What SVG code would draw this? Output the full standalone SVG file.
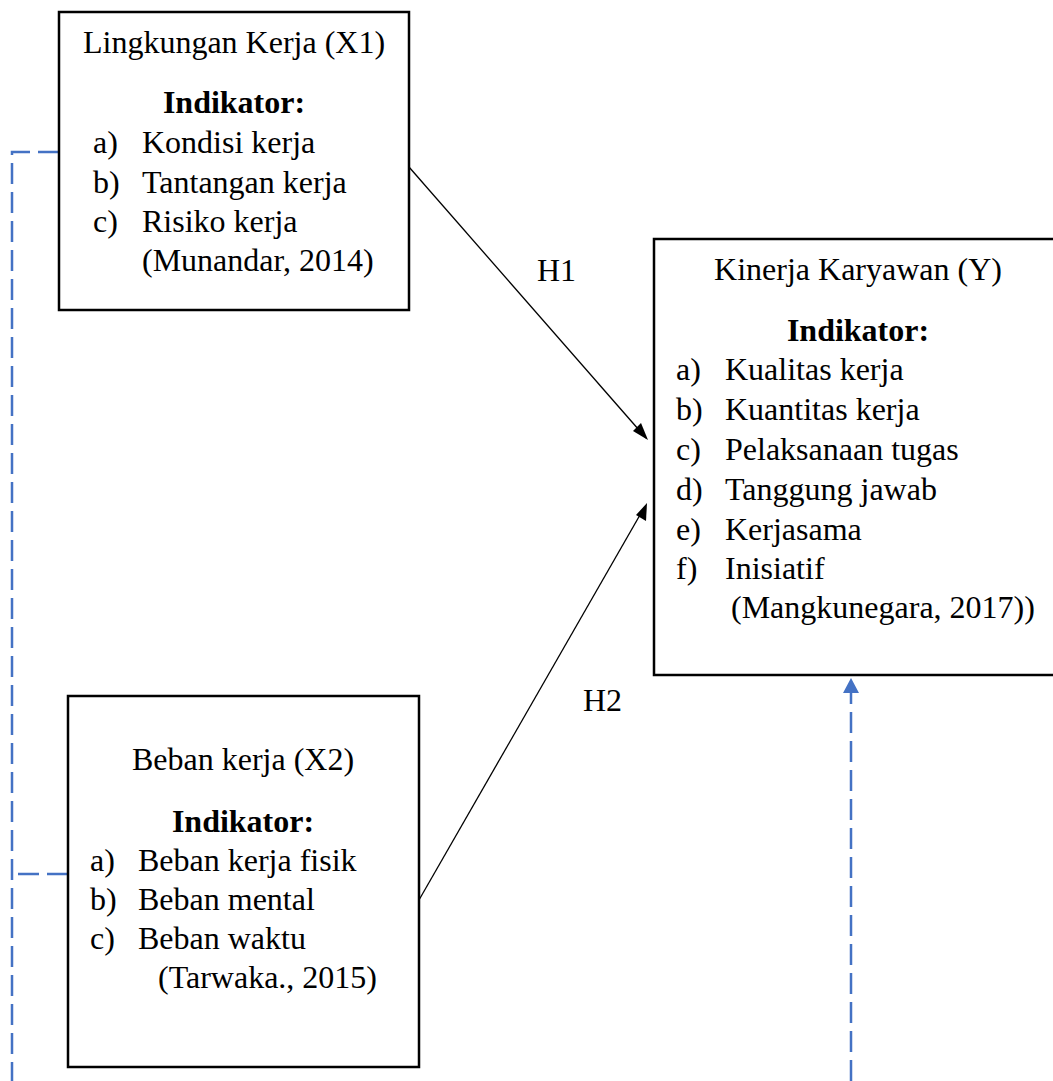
<svg xmlns="http://www.w3.org/2000/svg" width="1053" height="1081" viewBox="0 0 1053 1081">
<style>
  .box { fill: #ffffff; stroke: #000000; stroke-width: 2.5; }
  .t { font-family: "Liberation Serif", "Times New Roman", serif; font-size: 32px; fill: #000000; }
  .b { font-weight: bold; }
  .c { text-anchor: middle; }
  .link { stroke: #000000; stroke-width: 1.3; fill: none; }
  .dash { stroke: #4472C4; stroke-width: 2.5; fill: none; stroke-dasharray: 21 8; }
</style>
<defs>
  <marker id="arrowBlack" viewBox="0 0 10 10" refX="10" refY="5" markerWidth="10" markerHeight="10" markerUnits="userSpaceOnUse" orient="auto">
    <path d="M0,0 L10,5 L0,10 Z" fill="#000000"/>
  </marker>
  <marker id="arrowBlue" viewBox="0 0 10 10" refX="10" refY="5" markerWidth="16" markerHeight="16" markerUnits="userSpaceOnUse" orient="auto">
    <path d="M0,0 L10,5 L0,10 Z" fill="#4472C4"/>
  </marker>
</defs>

<g id="connectors">
  <path class="dash" d="M59,152 H12 V1081"/>
  <path class="dash" d="M68,874 H12"/>
  <line class="link" x1="409" y1="167" x2="646" y2="438"/>
  <path d="M648,440 L633,431 L641,423 Z" fill="#000000"/>
  <line class="link" x1="419" y1="900" x2="644" y2="508"/>
  <path d="M647,503 L646,521 L636,515 Z" fill="#000000"/>
  <line x1="851" y1="1081" x2="851" y2="690" stroke="#4472C4" stroke-width="2.5" stroke-dasharray="21 8"/>
  <path d="M851,678 L859,693 L843,693 Z" fill="#4472C4"/>
  <text class="t" x="537" y="281">H1</text>
  <text class="t" x="583" y="711">H2</text>
</g>

<g id="node-x1">
  <rect class="box" x="59" y="12" width="350" height="298"/>
  <text class="t c" x="234" y="53">Lingkungan Kerja (X1)</text>
  <text class="t b c" x="234" y="113">Indikator:</text>
  <text class="t" x="93" y="153">a)</text><text class="t" x="142" y="153">Kondisi kerja</text>
  <text class="t" x="93" y="193">b)</text><text class="t" x="142" y="193">Tantangan kerja</text>
  <text class="t" x="93" y="232">c)</text><text class="t" x="142" y="232">Risiko kerja</text>
  <text class="t" x="142" y="271">(Munandar, 2014)</text>
</g>

<g id="node-y">
  <rect class="box" x="654" y="239" width="410" height="436"/>
  <text class="t c" x="858" y="280">Kinerja Karyawan (Y)</text>
  <text class="t b c" x="858" y="341">Indikator:</text>
  <text class="t" x="676" y="380">a)</text><text class="t" x="725" y="380">Kualitas kerja</text>
  <text class="t" x="676" y="420">b)</text><text class="t" x="725" y="420">Kuantitas kerja</text>
  <text class="t" x="676" y="460">c)</text><text class="t" x="725" y="460">Pelaksanaan tugas</text>
  <text class="t" x="676" y="500">d)</text><text class="t" x="725" y="500">Tanggung jawab</text>
  <text class="t" x="676" y="540">e)</text><text class="t" x="725" y="540">Kerjasama</text>
  <text class="t" x="676" y="579">f)</text><text class="t" x="725" y="579">Inisiatif</text>
  <text class="t" x="731" y="618">(Mangkunegara, 2017))</text>
</g>

<g id="node-x2">
  <rect class="box" x="68" y="696" width="351" height="371"/>
  <text class="t c" x="243" y="770">Beban kerja (X2)</text>
  <text class="t b c" x="243" y="832">Indikator:</text>
  <text class="t" x="90" y="871">a)</text><text class="t" x="138" y="871">Beban kerja fisik</text>
  <text class="t" x="90" y="910">b)</text><text class="t" x="138" y="910">Beban mental</text>
  <text class="t" x="90" y="949">c)</text><text class="t" x="138" y="949">Beban waktu</text>
  <text class="t" x="158" y="988">(Tarwaka., 2015)</text>
</g>
</svg>
